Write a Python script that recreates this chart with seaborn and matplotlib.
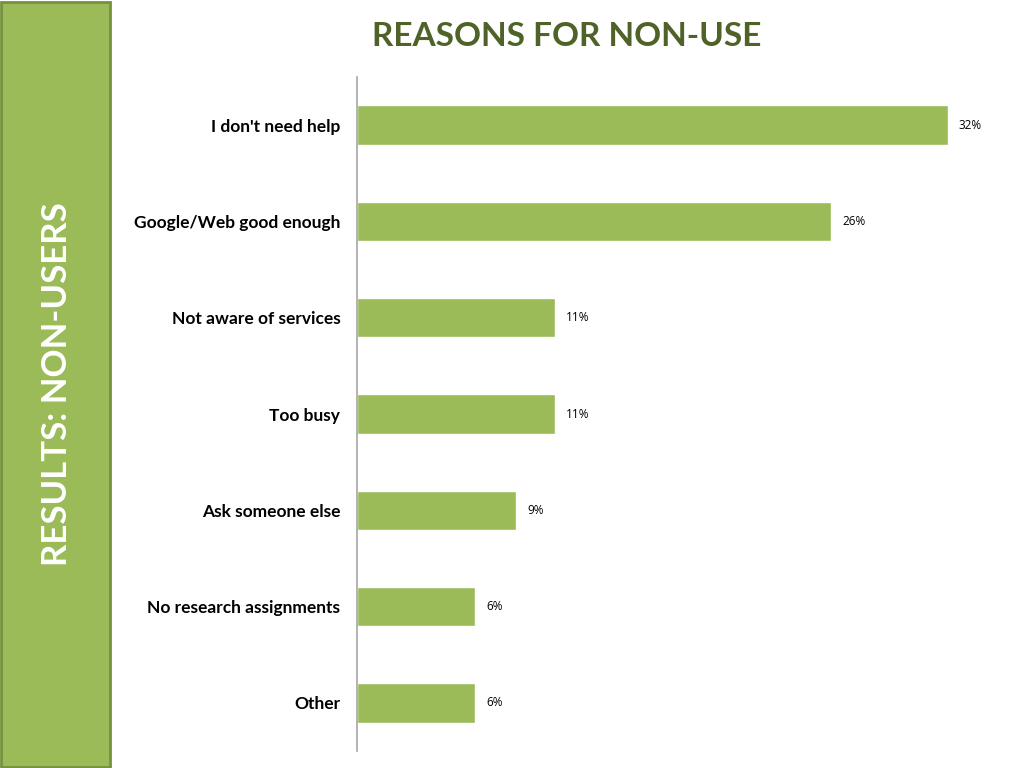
import matplotlib
matplotlib.use("Agg")
import matplotlib.pyplot as plt
import matplotlib.patches as mpatches
import pandas as pd
import seaborn as sns

# data
reasons = ["I don't need help", "Google/Web good enough", "Not aware of services",
           "Too busy", "Ask someone else", "No research assignments", "Other"]
percent = [31.9, 25.6, 10.7, 10.7, 8.6, 6.4, 6.4]

GREEN = "#9BBB59"
DARK_GREEN = "#76923C"
OLIVE = "#4F6228"

sns.set_theme(style="white")
plt.rcParams["font.family"] = ["Lato", "DejaVu Sans"]

fig = plt.figure(figsize=(10.24, 7.68), dpi=100)
fig.patch.set_facecolor("white")

# side banner
fig.patches.append(mpatches.Rectangle((0.001, 0.001), 0.106, 0.997, transform=fig.transFigure,
                                      facecolor=GREEN, edgecolor=DARK_GREEN, linewidth=2))
fig.text(0.056, 0.50, "RESULTS: NON-USERS", rotation=90, ha="center", va="center",
         color="white", fontsize=25, fontweight="bold")

fig.text(0.553, 0.953, "REASONS FOR NON-USE", ha="center", va="center",
         color=OLIVE, fontsize=24, fontweight="bold")

ax = fig.add_axes([0.3486, 0.0221, 0.6328, 0.8776])
df = pd.DataFrame({"reason": reasons, "pct": percent})
sns.barplot(data=df, x="pct", y="reason", color=GREEN, saturation=1, width=0.41, ax=ax)

for c in ax.containers:
    ax.bar_label(c, labels=[f"{v:.0f}%" for v in df["pct"]], padding=8, fontsize=8.5,
                 color="black", family=["Open Sans", "DejaVu Sans"])

ax.set_xlim(0, 35)
ax.set_ylim(6.5, -0.5)
ax.set_xlabel("")
ax.set_ylabel("")
ax.set_xticks([])
ax.tick_params(axis="y", length=0, pad=12, labelsize=12.5)
for lab in ax.get_yticklabels():
    lab.set_fontweight("bold")
    lab.set_color("black")
for side in ["top", "right", "bottom"]:
    ax.spines[side].set_visible(False)
ax.spines["left"].set_color("#A6A6A6")
ax.spines["left"].set_linewidth(1.2)
ax.set_facecolor("white")

fig.savefig("out.png", dpi=100, facecolor="white")
